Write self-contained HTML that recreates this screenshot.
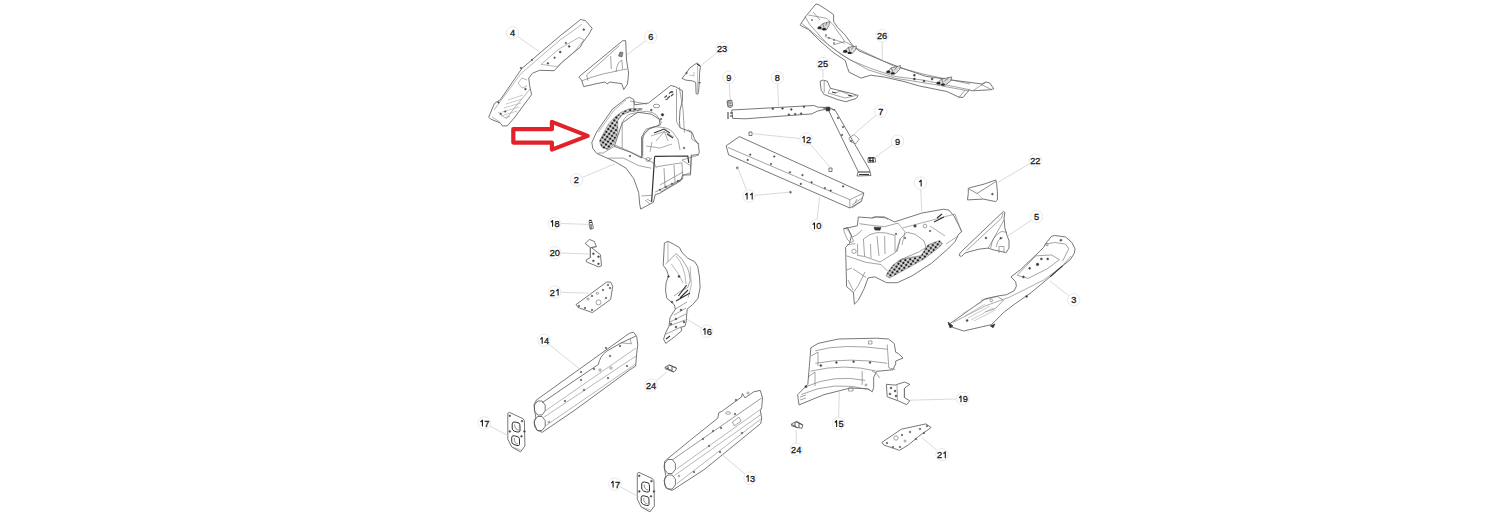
<!DOCTYPE html>
<html><head><meta charset="utf-8"><style>
html,body{margin:0;padding:0;background:#fff;width:1506px;height:512px;overflow:hidden}
svg{display:block}
text{font-family:"Liberation Sans",sans-serif;font-size:9.2px;fill:#1a1a1a;stroke:#1a1a1a;stroke-width:0.3px;text-anchor:middle}
</style></head><body>
<svg width="1506" height="512" viewBox="0 0 1506 512">
<defs><pattern id="mesh" width="3.5" height="3.5" patternUnits="userSpaceOnUse" patternTransform="rotate(35)"><rect width="3.5" height="3.5" fill="#fff"/><rect x="0.55" y="0.55" width="2.4" height="2.4" fill="#1a1a1a"/></pattern></defs>
<rect width="1506" height="512" fill="#fff"/>
<g id="parts"><polygon points="500.4,99.6 521.9,68.4 560.9,35.2 574.6,24.4 580.5,19.5 585.4,20.5 592.2,28.3 588.3,35.2 582.4,43.0 580.5,46.9 561.9,62.5 554.1,70.7 539.5,70.3 532.6,73.2 528.7,78.1 529.7,85.9 531.6,94.6 514.1,118.1 507.2,125.9 502.3,125.9 500.4,123.0 490.6,119.1 488.7,117.1 494.5,103.4" fill="#fff" stroke="#555" stroke-width="0.8" stroke-linejoin="round"/><polygon points="578.8,76.9 622.7,40.7 625.7,40.7 626.5,60.0 628.6,73.0 627.5,84.0 623.7,89.6 621.8,83.7 610.0,82.0 607.0,84.0 605.0,82.0 595.0,84.0 583.7,86.6 581.5,80.0" fill="#fff" stroke="#555" stroke-width="0.8" stroke-linejoin="round"/><polygon points="682.0,78.3 686.4,73.0 689.5,68.2 697.0,62.9 700.5,66.0 699.6,72.6 699.2,83.1 698.7,90.2 697.9,94.1 696.1,93.7 695.7,82.3 692.6,80.9 685.6,80.1" fill="#fff" stroke="#555" stroke-width="0.8" stroke-linejoin="round"/><polygon points="800.4,24.4 806.3,15.6 816.0,3.9 819.0,4.9 826.8,9.8 833.6,14.6 833.6,21.5 837.5,27.3 845.3,35.2 852.1,44.9 859.0,50.8 884.4,61.5 900.0,67.4 925.4,76.2 944.9,79.1 982.0,84.0 985.9,82.0 989.8,83.0 993.8,88.8 989.8,89.8 972.3,90.8 969.3,89.8 963.0,97.5 958.6,97.0 946.9,91.5 919.5,86.0 903.9,81.5 884.4,77.1 870.7,75.2 861.0,78.1 849.2,72.3 847.3,67.4 845.3,60.5 833.6,52.7 820.0,41.0 808.2,29.3 800.4,25.4" fill="#fff" stroke="#555" stroke-width="0.8" stroke-linejoin="round"/><polygon points="820.1,81.2 823.2,80.1 827.3,81.2 830.4,88.3 851.9,93.5 858.1,95.5 856.0,98.6 845.8,101.7 837.6,99.6 824.2,94.5 821.2,90.4" fill="#fff" stroke="#555" stroke-width="0.8" stroke-linejoin="round"/><polygon points="731.7,110.0 813.8,105.5 817.7,107.1 827.4,107.5 835.2,110.0 826.4,109.0 817.7,111.0 811.8,113.9 745.4,118.8 732.7,118.4" fill="#fff" stroke="#555" stroke-width="0.8" stroke-linejoin="round"/><polygon points="823.2,107.8 829.4,107.8 835.5,110.9 869.3,169.3 871.0,175.5 857.0,176.0 858.1,171.4 828.3,109.9" fill="#fff" stroke="#555" stroke-width="0.8" stroke-linejoin="round"/><polygon points="726.1,145.8 739.4,136.6 863.9,193.0 861.4,201.3 849.8,208.0 728.6,154.9" fill="#fff" stroke="#555" stroke-width="0.8" stroke-linejoin="round"/><polygon points="591.8,142.5 596.7,131.8 612.3,109.3 626.2,98.4 629.7,97.2 633.8,99.6 634.4,104.8 648.4,103.1 670.7,85.5 675.4,86.7 682.4,90.8 682.4,100.7 680.0,110.1 679.4,120.6 680.0,127.7 688.8,131.2 692.4,133.0 694.4,138.6 698.3,144.5 699.3,152.3 698.3,154.4 691.4,155.4 690.5,174.9 682.7,174.9 680.7,180.8 659.2,193.5 655.3,194.5 653.4,202.3 640.7,209.1 639.7,204.2 638.7,192.5 633.8,178.8 626.0,168.1 614.3,161.3 596.7,153.4 592.8,148.4" fill="#fff" stroke="#555" stroke-width="0.8" stroke-linejoin="round"/><polygon points="614.3,146.4 622.1,123.0 637.7,112.2 651.4,114.2 659.2,119.1 660.2,124.9 649.5,128.8 641.6,136.6 641.6,158.1 630.0,152.0" fill="#fff" stroke="#555" stroke-width="0.8" stroke-linejoin="round"/><polygon points="600.6,145.1 599.5,140.8 601.7,136.5 608.1,124.7 614.5,117.2 622.0,111.8 629.6,108.6 642.4,108.6 641.4,110.2 629.6,111.8 622.0,115.0 617.8,120.4 617.8,132.2 613.5,145.1 608.1,149.4 602.7,148.3" fill="url(#mesh)" stroke="#777" stroke-width="0.5"/><polygon points="858.3,217.0 872.0,218.0 876.9,217.0 886.6,218.0 894.5,221.9 921.8,213.1 943.3,209.2 949.1,210.2 954.0,216.0 959.9,227.7 961.8,231.6 958.9,233.9 955.0,241.7 947.2,249.5 931.6,263.2 912.0,275.9 897.4,282.7 886.6,282.7 874.9,276.9 868.1,277.9 864.2,288.6 858.3,300.3 854.4,304.2 853.4,292.5 846.6,286.6 845.6,247.3 849.5,243.4 851.5,235.5 847.6,227.7 843.7,228.7 857.3,225.8" fill="#fff" stroke="#555" stroke-width="0.8" stroke-linejoin="round"/><polygon points="887.8,272.1 893.0,265.0 901.5,258.9 921.0,255.5 927.9,244.8 939.6,240.4 942.5,243.8 938.6,247.7 924.0,259.0 909.3,267.2 889.8,278.0 886.0,276.0" fill="url(#mesh)" stroke="#777" stroke-width="0.5"/><polygon points="968.3,188.3 970.8,187.5 984.1,184.1 995.7,180.0 996.5,182.5 997.4,191.6 997.4,200.0 995.7,201.6 983.3,199.1 967.5,199.9 968.3,193.3" fill="#fff" stroke="#555" stroke-width="0.8" stroke-linejoin="round"/><polygon points="959.2,255.6 960.0,253.1 965.0,248.1 1003.2,211.6 1004.9,212.4 1004.0,218.2 1004.9,228.2 1007.4,236.5 1009.0,240.6 1009.0,248.1 1005.7,253.1 1004.9,252.3 993.2,249.8 988.2,248.1 979.9,249.0 970.0,251.5 965.0,253.1 961.6,256.4" fill="#fff" stroke="#555" stroke-width="0.8" stroke-linejoin="round"/><polygon points="948.6,324.6 985.1,298.8 1000.0,295.6 1006.2,294.8 1014.0,290.9 1016.4,286.2 1015.6,281.6 1010.9,276.9 1020.3,269.8 1035.9,255.0 1043.8,247.2 1045.3,244.1 1051.6,236.2 1054.7,235.5 1065.6,237.0 1071.9,242.5 1075.0,248.8 1074.2,253.4 1070.3,259.7 1062.5,265.9 1050.0,276.9 1031.2,292.5 1015.6,303.4 1009.4,308.1 1004.5,311.7 991.6,324.6 963.6,331.0 950.7,326.7" fill="#fff" stroke="#555" stroke-width="0.8" stroke-linejoin="round"/><polygon points="589.3,220.1 591.3,220.1 592.4,223.2 593.4,228.3 590.3,229.3 589.3,226.2" fill="#fff" stroke="#555" stroke-width="0.8" stroke-linejoin="round"/><polygon points="585.2,243.5 589.3,239.4 594.4,241.5 596.4,246.6 591.3,247.6 600.5,254.7 601.5,265.9 598.5,266.9 586.3,261.8 586.3,259.8 590.3,257.7 590.3,247.6" fill="#fff" stroke="#555" stroke-width="0.8" stroke-linejoin="round"/><polygon points="576.1,304.5 606.6,282.1 610.7,282.1 612.7,286.2 610.7,299.4 592.4,312.6 578.1,307.5" fill="#fff" stroke="#555" stroke-width="0.8" stroke-linejoin="round"/><polygon points="664.4,243.0 667.9,241.3 673.7,244.2 679.6,247.7 681.9,252.4 687.8,258.2 694.8,261.8 697.7,266.4 699.5,277.0 700.1,287.6 698.0,298.3 692.6,304.7 687.2,309.0 686.1,321.9 685.0,326.2 680.8,327.3 681.9,330.5 674.3,337.0 665.7,343.4 663.6,339.1 665.7,332.7 669.0,326.2 670.0,317.6 675.4,309.0 674.3,304.7 666.8,298.3 665.5,290.0 666.1,282.8 668.5,275.8 666.7,270.0 663.2,265.3" fill="#fff" stroke="#555" stroke-width="0.8" stroke-linejoin="round"/><polygon points="536.3,400.1 629.3,333.3 633.6,332.2 636.7,336.4 637.8,344.9 636.7,353.3 635.7,366.0 629.3,370.2 575.0,410.0 542.2,432.3 536.8,430.2 534.1,422.6 535.8,417.3 534.7,410.8 534.1,404.9" fill="#fff" stroke="#555" stroke-width="0.8" stroke-linejoin="round"/><polygon points="507.8,413.3 509.3,412.3 523.0,418.7 524.4,420.6 524.9,446.0 520.5,451.9 511.7,447.0 507.8,439.2" fill="#fff" stroke="#555" stroke-width="0.8" stroke-linejoin="round"/><polygon points="666.8,459.4 690.5,440.0 717.8,418.1 718.7,412.8 722.2,411.1 741.5,397.0 742.4,393.5 745.0,397.9 753.8,391.8 760.3,390.4 762.5,397.9 761.7,407.6 760.3,410.8 761.7,418.1 760.8,423.4 705.0,469.0 672.0,490.5 665.8,487.8 664.1,480.9 665.8,475.5 664.1,466.9 664.7,461.5" fill="#fff" stroke="#555" stroke-width="0.8" stroke-linejoin="round"/><polygon points="637.3,473.3 638.8,472.3 652.5,478.7 653.9,480.6 654.4,506.0 650.0,511.9 641.2,507.0 637.3,499.2" fill="#fff" stroke="#555" stroke-width="0.8" stroke-linejoin="round"/><polygon points="797.6,394.7 799.0,404.9 823.9,394.7 850.3,388.0 867.9,388.8 872.3,391.8 873.7,387.4 873.7,377.1 876.7,371.3 892.8,369.8 895.7,363.9 895.7,361.0 903.0,358.1 898.6,353.7 895.7,352.2 894.2,343.4 888.4,339.0 876.7,338.2 838.6,339.0 818.1,343.4 810.8,347.8 809.3,366.9 807.8,384.4" fill="#fff" stroke="#555" stroke-width="0.8" stroke-linejoin="round"/><polygon points="886.4,384.3 895.0,385.1 904.4,382.0 909.8,384.3 904.4,388.3 904.4,397.6 909.8,400.8 906.7,404.7 898.1,400.8 887.2,396.8" fill="#fff" stroke="#555" stroke-width="0.8" stroke-linejoin="round"/><polygon points="791.4,423.9 796.7,421.3 802.8,424.8 802.0,428.3 796.7,427.5 791.4,425.7" fill="#fff" stroke="#555" stroke-width="0.8" stroke-linejoin="round"/><polygon points="665.0,367.2 669.2,364.8 676.5,368.0 676.0,370.1 673.6,372.1 665.3,368.7" fill="#fff" stroke="#555" stroke-width="0.8" stroke-linejoin="round"/><polygon points="881.9,442.4 901.3,429.2 925.9,423.9 931.1,427.5 918.8,436.2 908.3,445.0 899.5,450.3 883.7,445.0" fill="#fff" stroke="#555" stroke-width="0.8" stroke-linejoin="round"/><polygon points="727.0,101.0 731.0,100.0 732.0,106.0 728.0,107.0" fill="#fff" stroke="#555" stroke-width="0.8" stroke-linejoin="round"/><polygon points="868.0,158.0 875.0,157.5 875.7,162.0 868.0,162.3" fill="#fff" stroke="#555" stroke-width="0.8" stroke-linejoin="round"/><polygon points="749.0,132.0 752.0,132.0 752.0,135.5 749.0,135.5" fill="#fff" stroke="#555" stroke-width="0.8" stroke-linejoin="round"/><polygon points="829.0,168.0 832.0,168.0 832.0,171.5 829.0,171.5" fill="#fff" stroke="#555" stroke-width="0.8" stroke-linejoin="round"/></g>
<g id="extra" fill="none" stroke="#666" stroke-width="0.6"><!-- part 4 -->
<path stroke="#888" d="M494,110 L521,73.5 L560,40 L575,29.5 L582,24"/>
<path stroke="#888" d="M541,64.4 L559,49 L579,37.5 L584,39.7 L575,51 L557,66.6 Z"/>
<path stroke="#888" d="M530,89 L516,106 L506,119"/>
<path stroke="#888" d="M527,80 L522,78 L518,83 L522,88 L527,86"/>
<path d="M506,104 L522,99 M504,108 L521,103 M502,112 L519,107 M501,116 L517,111 M508,100 L523,95" stroke="#aaa"/><circle cx="583.8" cy="29.6" r="0.9" fill="#333"/><circle cx="569.2" cy="46.4" r="0.9" fill="#333"/><circle cx="565.8" cy="43" r="0.8" fill="#333"/><circle cx="560.2" cy="52" r="1" fill="#333"/><circle cx="554.6" cy="57.7" r="0.8" fill="#333"/><circle cx="547.9" cy="63.3" r="0.9" fill="#333"/><circle cx="525.4" cy="89.1" r="0.9" fill="#333"/><circle cx="500.7" cy="113.8" r="0.9" fill="#333"/><circle cx="505.2" cy="111.5" r="0.8" fill="#333"/><circle cx="498.5" cy="102.5" r="0.8" fill="#333"/><circle cx="521" cy="68" r="0.8" fill="#333"/><circle cx="532" cy="60" r="0.8" fill="#333"/>
<path stroke="#888" d="M498,112 L505,118 L510,116 M492,117 L500,122"/>
<!-- part 6 -->
<path d="M586.7,74.8 L619.5,45.5 M586.7,75 L587.9,80.7 M610.7,56.1 L611.3,69 M616,72 Q617,62 621.9,60.2 L622.5,69 M582,80.7 Q600,74 610.2,72.5 Q620,70 627,69"/>
<path d="M618.5,56 L620,52 L623,52.5 L622,57 Z" fill="#888" stroke="#555"/>
<!-- part 23 -->
<path d="M689,75 L694,76 L694,72 M697.5,66 L697.5,92" stroke="#999"/><circle cx="686.5" cy="73" r="0.8" fill="#333"/><path d="M698.5,83 L700.5,82.5 M697,64 L700,66" stroke="#333" stroke-width="1.1"/>
<!-- part 2 extras -->
<path d="M598.4,132.2 L613.5,110.7 L626,100" stroke="#888"/>
<path d="M622.2,148 L622.2,122.6 Q626,115 631.1,113.7 L646.3,111.2 Q653,112 656.5,115 L661.6,122.6 L656.5,126.4 L646.3,128.9 Q643,132 642.5,137.8 L642.5,155.6"/>
<path d="M598,153 L603.2,153 L615.9,145.4 L638.7,155.6 L654,163.2 L656.5,168.2 M608.3,158.1 L623.5,158.1 L638.7,165.7 L651.4,168.2"/>
<path d="M642.8,156.9 L642.8,139.3 Q644,132 646.7,130.5 Q650,127 654.6,126.6 L664.3,127.6 Q670,129 672.2,131.5 L678,139.3 L680,150"/>
<path d="M664.3,131.5 L651,136 M664.3,131.5 L656,141 M664.3,131.5 L668,141 M664.3,131.5 L674,137 M646,146 L660,148 L672,144 M650,152 L652,142" stroke="#777"/>
<path d="M654.6,156.3 L687.8,156 L688.8,162.8 M654.6,156.9 L651.6,202" stroke="#333" stroke-width="1.2"/>
<path d="M656.5,166.7 L681.9,162.8 L682.9,178.4 L660.4,192.1 M664,168 L665,188 M674,165 L675,182 M660,185 L683,172 M682,160 L699,155"/>
<path d="M687.8,129.6 L691.7,131.5 L691.7,139 L699.5,144.2 M679.3,87.1 L683.1,109.9 L684.4,132.7 M634,101 L634,112 M630,101 L647,104 M648,161 L652,158"/>
<path d="M664.5,97.5 L667,95.5 M667.5,98.5 L670,96 M669,93.5 L671.5,91.5 M671,96 L673.5,94 M665.5,99.5 L668,99" stroke="#444" stroke-width="1.1"/><circle cx="672" cy="92" r="0.9" fill="#333"/>
<ellipse cx="656.5" cy="106" rx="3.2" ry="1.8" stroke="#555"/>
<path d="M676.5,89 L676.5,121.8 L680,127.7 M682.9,175.6 L690.4,172.6 M691.2,154.5 L690.4,172.6 M682,160 L691,166 M641.5,196 L652.8,195.2 M645,200 L650,204 M647,199 L652,202" stroke="#666"/>
<path d="M655.1,192.1 L682.9,178.6" stroke="#555"/>
<circle cx="660" cy="189.7" r="0.8" fill="#333"/><circle cx="666" cy="186.8" r="0.8" fill="#333"/><circle cx="672" cy="183.8" r="0.8" fill="#333"/><circle cx="678" cy="180.9" r="0.8" fill="#333"/>
<circle cx="651.3" cy="110.1" r="0.9" fill="#333"/>
<path d="M654,133 L664,129 L670,133 M667,134 L673,138" stroke="#333" stroke-width="1.1"/>
<circle cx="662.5" cy="114.8" r="1.3" fill="#222"/><circle cx="648" cy="159.5" r="2"/><circle cx="661" cy="119" r="0.8" fill="#333"/><circle cx="684" cy="148" r="0.8" fill="#333"/><circle cx="630" cy="156" r="0.8" fill="#333"/>
<!-- part 1 extras -->
<path d="M859.3,223.7 L872.8,225.5 L884.5,226.7 L898,223.1 M871.6,218.5 L874,216.7 L884.5,216.7 L888,219.6"/>
<path d="M843.5,229 L845.9,228.4 L848.8,231.3 L852.3,237.8 L853.5,241.3 L850.5,242.5 L847,239 L844.7,233.1 Z M852,237 Q856,236 858.7,233.1 L862,230"/>
<path d="M863.4,239 L864.6,256.5 M863.4,239 Q875,228 895,235.4 L895,251.8 M870.5,244 L871,258 M884.6,236 L885,254 M877,236 L879,256" />
<path d="M874,227.2 L881,227.5 L880,230.2 L875,230 Z" fill="#333" stroke="#333"/>
<circle cx="854" cy="251.3" r="2.2"/>
<path d="M857.6,243.6 L857.6,255.4 L864.6,256.5 M847,244.8 L855.2,243.6 M846.6,255.9 L865.9,262.3 L881,264.5 L887.4,270.9 M853,268.8 L865.9,277.4"/>
<path d="M864.6,256.5 L880,262 L896,252 L900.3,238.7"/>
<path d="M897.1,251.6 L900.3,238.7 L906.8,232.2 L915.4,234.4 L923.9,240.8 L926.1,247.3 L919.7,251.6 L906.8,257 L897,262"/>
<path d="M902.5,228 L955,214 L961.5,232 M898,223 L905,232 L902,245 M930,226 L945,236 M946,244 L958,236" stroke="#777"/>
<path d="M853.4,292.5 L858,286 L865,272 M848,280 L853,290 M846.6,270 L852,268"/>
<path d="M937,218 L942,214 M934,222 L944,217" stroke="#333" stroke-width="1.2"/>
<circle cx="915" cy="226" r="1.3" fill="#333"/><circle cx="925" cy="226" r="1.8"/><circle cx="905" cy="238" r="0.8" fill="#333"/><circle cx="930" cy="231" r="0.8" fill="#333"/><circle cx="896" cy="234" r="0.8" fill="#333"/>
<!-- part 26 -->
<path d="M805,16.6 L810,24.9 L828.2,44.9 L849.8,59.8 L869.8,68.1 L894.7,76.4 L923,80.1 L969.2,89.7"/>
<path d="M801.6,23.3 L819.9,38.2 L841.5,54.8 L868.1,69.8 L894.7,78.1 L933.7,84.4 L969,91"/>
<path d="M808.3,15 L826.6,18.3 L833.2,24.9 L844.8,41.5 L856.5,48.2 L894.7,66.4 L923,74 L970,84"/>
<path d="M824.9,36.5 L844.8,43.2 M833.2,44.9 L844.8,41.5 M813,12 L820,20 M958.4,98.3 L965,90"/>

<path d="M817.6,28.7 L822.6,23.7 L829.9,21.5 L828.9,25.5 L826.6,29.7 Z" fill="#ddd" stroke="#444"/><path d="M822.6,23.7 L824.6,29.2 M826.9,22.5 L825.6,25.7" stroke="#444"/><ellipse cx="819.6" cy="27.7" rx="2" ry="1.2" fill="#222" stroke="none"/><ellipse cx="824.1" cy="29.3" rx="2" ry="1.2" fill="#222" stroke="none"/><path d="M843.2,52.3 L848.2,47.3 L856.5,46.1 L855.5,50.1 L852.2,53.3 Z" fill="#ddd" stroke="#444"/><path d="M848.2,47.3 L850.2,52.8 M853.5,47.1 L851.2,49.3" stroke="#444"/><ellipse cx="845.2" cy="51.3" rx="2" ry="1.2" fill="#222" stroke="none"/><ellipse cx="849.7" cy="52.9" rx="2" ry="1.2" fill="#222" stroke="none"/><path d="M886.3,72.8 L891.3,67.8 L900.6,65.6 L899.6,69.6 L895.3,73.8 Z" fill="#ddd" stroke="#444"/><path d="M891.3,67.8 L893.3,73.3 M897.6,66.6 L894.3,69.8" stroke="#444"/><ellipse cx="888.3" cy="71.8" rx="2" ry="1.2" fill="#222" stroke="none"/><ellipse cx="892.8" cy="73.39999999999999" rx="2" ry="1.2" fill="#222" stroke="none"/><path d="M936.5,84 L941.5,79 L951.8,76.9 L950.8,80.9 L945.5,85 Z" fill="#ddd" stroke="#444"/><path d="M941.5,79 L943.5,84.5 M948.8,77.9 L944.5,81" stroke="#444"/><ellipse cx="938.5" cy="83" rx="2" ry="1.2" fill="#222" stroke="none"/><ellipse cx="943.0" cy="84.6" rx="2" ry="1.2" fill="#222" stroke="none"/>
<path d="M973.5,90.3 L985.8,82.2 M981,84.4 L991.7,89.7"/>
<circle cx="914.4" cy="75.2" r="1" fill="#222"/><circle cx="932.1" cy="79" r="1" fill="#222"/><circle cx="914.4" cy="79" r="1" fill="#222"/><circle cx="924" cy="81.1" r="1" fill="#222"/>
<circle cx="812" cy="20" r="0.6" fill="#444"/><circle cx="826" cy="35" r="0.6" fill="#444"/><circle cx="829" cy="38" r="0.6" fill="#444"/><circle cx="834" cy="40" r="0.6" fill="#444"/><circle cx="834" cy="43" r="0.6" fill="#444"/>
<!-- part 8 -->
<path d="M728,101 L732,100.5 L732.7,106 L730,108 L727.9,105 Z" fill="#ccc" stroke="#444"/><path d="M729,103 L731.5,103 M729.5,105.5 L731.5,105.5" stroke="#333"/>
<path d="M728,112 L728,119 M730,113 L733,113 M730,116 L733,116" stroke="#333" stroke-width="1"/>
<circle cx="772.8" cy="108.7" r="0.9" fill="#333"/><circle cx="782.5" cy="108.4" r="0.9" fill="#333"/><circle cx="791.3" cy="109.4" r="0.9" fill="#333"/><circle cx="804" cy="106.7" r="0.9" fill="#333"/><circle cx="788.9" cy="114.6" r="0.9" fill="#333"/><circle cx="795.2" cy="114.1" r="0.9" fill="#333"/><circle cx="801.1" cy="113.6" r="0.9" fill="#333"/>
<path d="M826,107 L830,107 L830,111 L826,111 Z" fill="#333"/>
<!-- part 25 -->
<path d="M824.2,81 L824.2,92.4 M830.4,88.3 L828,93 L845,98 L856,95.5 M836,93 L840,91 L848,94" />
<path d="M832,92 L836,93 M848,95 L852,96" stroke="#333" stroke-width="1.2"/>
<!-- part 7 -->
<circle cx="838" cy="118" r="0.8" fill="#333"/><circle cx="843" cy="127" r="0.8" fill="#333"/><circle cx="842" cy="135" r="0.8" fill="#333"/><circle cx="851" cy="141" r="0.8" fill="#333"/>
<path d="M848.8,138 L854,134.5 L859.1,139 L856,143.7 L851,142 Z"/>
<path d="M858,172 L870,172 M859,174.5 L869,174.5" stroke="#333" stroke-width="1.2"/>
<path d="M868,158 L875,158 M869,160.5 L874,161 M870,157 L870,162.5 M873,157 L873,162.5" stroke="#222" stroke-width="1.1"/>
<!-- part 3 -->
<path d="M1017.2,275.3 L1035.9,255.8 L1051.6,255 L1059.4,259.7 L1046.9,269 L1028.1,278.4 Z"/>
<path d="M1045.3,244.1 L1054.7,242.5 L1065.6,244.1 L1068.75,248.75 L1062.5,261.25"/>
<path d="M953,322.5 L985,306 L1009.4,297.2 L1043.75,280 L1062.5,265.9 L1071,256" stroke="#777"/>
<path d="M1050,276.9 L1062.5,265.9" stroke="#333" stroke-width="1.1"/>
<path d="M981.2,300.4 L997.3,296.4 L1003.4,300.4 L995.3,308.5 L985,312"/>
<path d="M965,316 L985,304 M968,318 L990,306 M971,320 L993,308 M962,314 L982,302 M974,321 L995,310" stroke="#aaa"/>
<circle cx="1060.9" cy="240.2" r="1" fill="#333"/><circle cx="1046.9" cy="244.8" r="1.2"/><circle cx="1041.4" cy="258.9" r="1" fill="#333"/><circle cx="1047.7" cy="258.9" r="1" fill="#333"/><circle cx="1037.5" cy="264.4" r="1.3" fill="#333"/><circle cx="1029.7" cy="268.3" r="1" fill="#333"/><circle cx="1023.4" cy="276.9" r="1" fill="#333"/><circle cx="1026.6" cy="296.4" r="1" fill="#333"/><circle cx="991.3" cy="300.4" r="1.3"/><circle cx="967.1" cy="320.5" r="1" fill="#333"/>
<path d="M948,322 L953,326 L950,328 Z M990,326 L995,324 L993,328" fill="#333" stroke="#333"/>
<!-- part 10 -->
<path d="M727.8,147.4 L849.8,199.7 L863.9,193 M849.8,199.7 L849.8,208 M852,205 L862,198 M855,203 L857,199 M852,208 L861.4,201.3"/>

<circle cx="750.2" cy="154.6" r="0.8" fill="#333"/><circle cx="774.3" cy="156.5" r="0.8" fill="#333"/><circle cx="747.7" cy="159.9" r="0.8" fill="#333"/><circle cx="771" cy="164" r="0.8" fill="#333"/><circle cx="790" cy="172.3" r="0.8" fill="#333"/><circle cx="802.5" cy="175.1" r="0.8" fill="#333"/><circle cx="811.6" cy="182.3" r="0.8" fill="#333"/><circle cx="800.8" cy="183.9" r="0.8" fill="#333"/><circle cx="824.9" cy="188.1" r="0.8" fill="#333"/><circle cx="830.7" cy="190.6" r="0.8" fill="#333"/><circle cx="843.1" cy="186.4" r="0.8" fill="#333"/>
<circle cx="737.3" cy="167.8" r="1" fill="#555"/><circle cx="790.4" cy="192.2" r="1" fill="#555"/>
<!-- part 22 -->
<path d="M969,189 L977,193.5 L996,181.5" stroke="#444"/><path d="M977,193.5 L983,199" stroke="#999"/>
<circle cx="992.4" cy="194.1" r="0.9" fill="#333"/>
<!-- part 5 -->
<path d="M966.6,250.6 L1001.5,218.2 L1003,213 M990.7,248 Q992,236 1001.5,231.5 L1007,232.3 M996.5,247 Q997,239 1003,237.5 M999,253 L999,246.5 L1004,246.5 L1004,252.5 M988,248.5 L1004,220"/>
<circle cx="1000.7" cy="238.2" r="0.9" fill="#333"/><circle cx="986" cy="238" r="0.9" fill="#333"/>
<!-- part 15 -->
<path d="M815.3,350.8 Q841.9,343 887.2,349.2 M815.3,363.3 Q850,357 887.2,363.3 M810.6,371.1 Q845,363 876.3,371.1 M805.9,386.7 Q834,374 865.3,380.4 M801.3,394.5 Q834,380 870,389.8"/>
<path d="M887.2,344.5 L888.8,367.9 L895,369.5 M862.2,371 L862.2,385 M872,371 Q876,372 880,378 M811,356 L818,352 L818,366 M808,377 L815,372 L815,386"/>
<path d="M868.4,341 L872,341 L872,344 L868.4,344 Z M848.5,388 L853,388 L853,391 L848.5,391 Z M800,397 L806,395 M800,400 L806,398"/>
<circle cx="836.4" cy="362.5" r="0.9" fill="#333"/><circle cx="853.6" cy="361.7" r="0.9" fill="#333"/><circle cx="870" cy="362.5" r="0.9" fill="#333"/><circle cx="820.8" cy="365.6" r="1" fill="#333"/><circle cx="805.9" cy="386.7" r="1.1" fill="#333"/><circle cx="866" cy="385" r="1"/>
<!-- part 19 -->
<path d="M897,385.1 L897.5,400.8 M904.4,388.3 L904.4,397.6"/>
<circle cx="891" cy="388" r="0.9" fill="#333"/><circle cx="895" cy="391" r="0.9" fill="#333"/><circle cx="890" cy="394" r="0.9" fill="#333"/><circle cx="896" cy="396" r="0.9" fill="#333"/>
<!-- part 21 lower -->
<circle cx="896" cy="438" r="2.2"/><circle cx="905" cy="441" r="1"/><circle cx="910" cy="432" r="0.8" fill="#333"/><circle cx="920" cy="429" r="0.8" fill="#333"/><circle cx="924" cy="433" r="0.8" fill="#333"/><circle cx="902" cy="435" r="0.8" fill="#333"/><circle cx="887" cy="443" r="0.8" fill="#333"/><circle cx="893" cy="447" r="0.8" fill="#333"/><circle cx="900" cy="447" r="0.8" fill="#333"/><circle cx="916" cy="439" r="0.8" fill="#333"/><circle cx="927" cy="426" r="0.8" fill="#333"/>
<!-- part 14 -->
<path d="M542.2,402.7 L568,385 L598.3,364.5 Q600,356 606.9,351 L621,343 L636,336" stroke="#555" stroke-width="0.8"/>
<path d="M545.4,410.8 L636,348 M543.8,417.3 L636,356 M545.4,425.9 L635.7,364" stroke="#888"/>
<path d="M545.2,410.9 L542.0,415.0 L537.6,415.0 L534.4,410.9 L534.4,405.1 L537.6,401.0 L542.0,401.0 L545.2,405.1 Z M545.2,426.4 L542.0,430.5 L537.6,430.5 L534.4,426.4 L534.4,420.6 L537.6,416.5 L542.0,416.5 L545.2,420.6 Z" stroke="#555" stroke-width="0.8"/>
<path d="M620.9,342.8 L631.4,343.8 L630,339"/>
<circle cx="581" cy="372" r="0.8" fill="#333"/><circle cx="581" cy="380" r="0.8" fill="#333"/><circle cx="594" cy="369" r="0.8" fill="#333"/><circle cx="600" cy="370" r="1.2"/><circle cx="611" cy="368" r="1.2"/><circle cx="627" cy="366" r="0.8" fill="#333"/><circle cx="610" cy="356" r="0.8" fill="#333"/><circle cx="606" cy="348" r="0.8" fill="#333"/><circle cx="620" cy="346" r="0.8" fill="#333"/><circle cx="608" cy="378" r="0.8" fill="#333"/><circle cx="584" cy="390" r="0.8" fill="#333"/><circle cx="565" cy="401" r="0.8" fill="#333"/><circle cx="549" cy="422" r="0.9"/>
<!-- part 13 -->
<path d="M672.2,459.9 L761.7,397.9" stroke="#555"/>
<path d="M676.5,469 L761.7,408.5 M674.4,475.5 L761.7,414 M676.5,484 L760.8,419" stroke="#888"/>
<path d="M675.4,469.4 L672.2,473.5 L667.8,473.5 L664.6,469.4 L664.6,463.6 L667.8,459.5 L672.2,459.5 L675.4,463.6 Z M675.4,484.9 L672.2,489.0 L667.8,489.0 L664.6,484.9 L664.6,479.1 L667.8,475.0 L672.2,475.0 L675.4,479.1 Z" stroke="#555" stroke-width="0.8"/>
<path d="M732.4,422 L739,417.2 L741,421 L734.4,425.8 Z"/>
<ellipse cx="728.1" cy="413" rx="2.5" ry="1.3"/>
<circle cx="748" cy="393" r="1"/><circle cx="736" cy="400" r="0.8" fill="#333"/><circle cx="735" cy="414" r="0.8" fill="#333"/><circle cx="721" cy="428" r="0.8" fill="#333"/><circle cx="713" cy="431" r="0.8" fill="#333"/><circle cx="703" cy="439" r="0.8" fill="#333"/><circle cx="709" cy="446" r="0.8" fill="#333"/><circle cx="742" cy="433" r="0.8" fill="#333"/><circle cx="720" cy="452" r="0.8" fill="#333"/><circle cx="694" cy="472" r="0.8" fill="#333"/><circle cx="679" cy="476" r="0.9"/>
<!-- part 16 -->
<path d="M665.5,264.1 L676.1,253.6 Q682,258 684.3,262.9 Q688,268 689,272.3 L690.1,280.5 L687.8,287.5 L680.8,291 L674,296"/>
<path d="M671.4,264.1 Q678,272 683.1,282.8 M676,256 Q685,266 686,284 M690.1,266.4 L691.3,285.2 L688,298 M667.9,241.3 L668,262" stroke="#888"/>
<path d="M678.4,296 L686.6,285.2 M680,298 L688,290 M676,301 L690,293" stroke="#333" stroke-width="1.1"/>
<circle cx="679" cy="276.4" r="1" fill="#222"/><circle cx="668.5" cy="276.4" r="0.9" fill="#222"/>
<path d="M675.4,309 L687,302 M674,315 L686,308 M670,322 L686,314 M669,326 L685,320 M666,334 L681,327" />
<circle cx="672" cy="302" r="0.9" fill="#333"/><circle cx="681" cy="310" r="0.9" fill="#333"/><circle cx="676" cy="319" r="0.9" fill="#333"/><circle cx="671" cy="324" r="0.9" fill="#333"/><circle cx="676" cy="327" r="0.9" fill="#333"/><circle cx="684" cy="322" r="0.9" fill="#333"/>
<path d="M666,339 L670,336" stroke="#333" stroke-width="1.1"/>
<!-- part 17 a -->
<g id="g17">
<path d="M512.2,424 Q512.2,421.6 515,422 L519,423 Q520,424 520,427 L520,431 Q520,432.4 517,432 L514,431 Q512.2,430 512.2,428 Z" stroke="#333" stroke-width="1"/>
<path d="M514.5,424.5 Q515,430 519,430" stroke="#444"/>
<path d="M511.7,437.5 Q511.7,435.3 514.5,435.8 L518.5,437 Q519.5,438 519.5,440 L519.5,444.5 Q519.5,446 517,445.5 L514,444.5 Q511.7,443.5 511.7,441.5 Z" stroke="#333" stroke-width="1"/>
<path d="M514.3,438 Q514,443.5 518,444" stroke="#444"/>
<circle cx="509.8" cy="415.8" r="0.9" fill="#333"/><circle cx="522" cy="421.1" r="0.9" fill="#333"/><circle cx="509.8" cy="431.4" r="0.9" fill="#333"/><circle cx="521.5" cy="436.3" r="0.9" fill="#333"/><circle cx="524.4" cy="431.4" r="0.9" fill="#333"/>
<path d="M512,447 L521,450" stroke="#888"/>
</g>
<use href="#g17" transform="translate(129.5,60)"/>
<!-- part 18 -->
<path d="M589.3,220.5 L591.5,220.5 M589.5,222.5 L592,222.5 M591,224 L591,229" stroke="#333" stroke-width="1"/>
<!-- part 20 -->
<path d="M590.3,247.6 L591.3,247.6 L596.4,246.6 M590.3,247.6 L590.3,257.7"/>
<circle cx="593.4" cy="253.7" r="0.9" fill="#333"/><circle cx="598.5" cy="256.7" r="0.9" fill="#333"/><circle cx="593.4" cy="260.8" r="0.9" fill="#333"/><circle cx="598.5" cy="263.8" r="0.9" fill="#333"/>
<!-- part 21 upper -->
<circle cx="598.5" cy="302.4" r="2.5"/><circle cx="597.4" cy="293.3" r="1.1"/><circle cx="588" cy="299" r="1.1"/>
<circle cx="579" cy="306" r="0.8" fill="#333"/><circle cx="585" cy="308" r="0.8" fill="#333"/><circle cx="592" cy="310" r="0.8" fill="#333"/><circle cx="608" cy="285" r="0.8" fill="#333"/><circle cx="606" cy="298" r="0.8" fill="#333"/><circle cx="603" cy="290" r="0.8" fill="#333"/><circle cx="592" cy="296" r="0.8" fill="#333"/><circle cx="610" cy="288" r="0.8" fill="#333"/>
<!-- part 24 a/b -->
<path d="M669.2,365 L676.5,368.2 M665.3,367.6 L673.6,371.5 M668,366 L668,369 M672,367 L672,370" stroke="#444" stroke-width="0.9"/>
<path d="M796,421.8 L802.5,425 M791.8,424.5 L797.5,427.7 M795,422 L795,426 M799,423.5 L799,427.5" stroke="#444" stroke-width="0.9"/>
</g>
<g id="leaders" stroke="#cfcfcf" stroke-width="0.8"><line x1="517.65" y1="36.43" x2="539.5" y2="51.8"/><line x1="645.66" y1="40.68" x2="627" y2="54.7"/><line x1="717.11" y1="52.47" x2="701.2" y2="65.4"/><line x1="729.27" y1="83.39" x2="730.2" y2="99.3"/><line x1="777.59" y1="83.99" x2="778.6" y2="106.1"/><line x1="882.1" y1="42.0" x2="882.4" y2="60.5"/><line x1="822.9" y1="69.8" x2="822.9" y2="78"/><line x1="876.11" y1="115.19" x2="854.2" y2="133.9"/><line x1="799.73" y1="138.55" x2="751.25" y2="133.5"/><line x1="810.1" y1="143.99" x2="830.4" y2="167.7"/><line x1="892.39" y1="144.89" x2="873.7" y2="158.4"/><line x1="582.21" y1="177.47" x2="614.7" y2="163.9"/><line x1="920.7" y1="189.29" x2="921.8" y2="212.1"/><line x1="1029.88" y1="163.51" x2="998.3" y2="182.2"/><line x1="746.61" y1="190.13" x2="737.6" y2="167.1"/><line x1="755.17" y1="195.41" x2="790.3" y2="192.1"/><line x1="817.03" y1="219.44" x2="819.6" y2="197.4"/><line x1="1031.38" y1="220.12" x2="1008" y2="235.9"/><line x1="560.7" y1="223.5" x2="588.8" y2="224.4"/><line x1="561.1" y1="252.94" x2="588.8" y2="254"/><line x1="561.1" y1="292.3" x2="588.8" y2="293.2"/><line x1="1068.78" y1="295.86" x2="1049.6" y2="280.5"/><line x1="701.42" y1="327.93" x2="686.9" y2="319.1"/><line x1="548.91" y1="344.25" x2="579.1" y2="368.5"/><line x1="655.91" y1="381.13" x2="666.8" y2="371.9"/><line x1="956.5" y1="398.97" x2="910" y2="400.2"/><line x1="489.76" y1="425.97" x2="508" y2="435.7"/><line x1="838.59" y1="417.2" x2="839.4" y2="391.2"/><line x1="796.2" y1="443.1" x2="796.2" y2="430"/><line x1="937.22" y1="450.6" x2="921.5" y2="437.1"/><line x1="620.47" y1="487.04" x2="638.6" y2="496.6"/><line x1="745.19" y1="474.14" x2="721.8" y2="454.4"/></g>
<g id="labels"><g fill="#fff" stroke="#e2e2e2" stroke-width="0.8"><circle cx="512.5" cy="32.8" r="6.2"/><circle cx="650.7" cy="36.9" r="6.2"/><circle cx="722" cy="48.5" r="6.2"/><circle cx="728.9" cy="77.1" r="6.2"/><circle cx="777.3" cy="77.7" r="6.2"/><circle cx="882" cy="35.7" r="6.2"/><circle cx="822.9" cy="63.5" r="6.2"/><circle cx="880.9" cy="111.1" r="6.2"/><circle cx="806" cy="139.2" r="6.2"/><circle cx="897.5" cy="141.2" r="6.2"/><circle cx="576.4" cy="179.9" r="6.2"/><circle cx="920.4" cy="183" r="6.2"/><circle cx="1035.3" cy="160.3" r="6.2"/><circle cx="748.9" cy="196" r="6.2"/><circle cx="816.3" cy="225.7" r="6.2"/><circle cx="1036.6" cy="216.6" r="6.2"/><circle cx="554.4" cy="223.3" r="6.2"/><circle cx="554.8" cy="252.7" r="6.2"/><circle cx="554.8" cy="292.1" r="6.2"/><circle cx="1073.7" cy="299.8" r="6.2"/><circle cx="706.8" cy="331.2" r="6.2"/><circle cx="544" cy="340.3" r="6.2"/><circle cx="651.1" cy="385.2" r="6.2"/><circle cx="962.8" cy="398.8" r="6.2"/><circle cx="484.2" cy="423" r="6.2"/><circle cx="838.4" cy="423.5" r="6.2"/><circle cx="796.2" cy="449.4" r="6.2"/><circle cx="942" cy="454.7" r="6.2"/><circle cx="614.9" cy="484.1" r="6.2"/><circle cx="750" cy="478.2" r="6.2"/></g>
<text x="512.50" y="36.30">4</text><text x="650.70" y="40.40">6</text><text x="719.44" y="52.00">2</text><text x="724.56" y="52.00">3</text><text x="728.90" y="80.60">9</text><text x="777.30" y="81.20">8</text><text x="879.44" y="39.20">2</text><text x="884.56" y="39.20">6</text><text x="820.34" y="67.00">2</text><text x="825.46" y="67.00">5</text><text x="880.90" y="114.60">7</text><text x="808.56" y="142.70">2</text><text x="897.50" y="144.70">9</text><text x="576.40" y="183.40">2</text><text x="1032.74" y="163.80">2</text><text x="1037.86" y="163.80">2</text><text x="818.86" y="229.20">0</text><text x="1036.60" y="220.10">5</text><text x="556.96" y="226.80">8</text><text x="552.24" y="256.20">2</text><text x="557.36" y="256.20">0</text><text x="552.24" y="295.60">2</text><text x="1073.70" y="303.30">3</text><text x="709.36" y="334.70">6</text><text x="546.56" y="343.80">4</text><text x="648.54" y="388.70">2</text><text x="653.66" y="388.70">4</text><text x="965.36" y="402.30">9</text><text x="486.76" y="426.50">7</text><text x="840.96" y="427.00">5</text><text x="793.64" y="452.90">2</text><text x="798.76" y="452.90">4</text><text x="939.44" y="458.20">2</text><text x="617.46" y="487.60">7</text><text x="752.56" y="481.70">3</text><path d="M804.20,142.70 V136.35 L802.36,138.19 M921.15,186.50 V180.15 L919.31,181.99 M747.10,199.50 V193.15 L745.26,194.99 M752.21,199.50 V193.15 L750.37,194.99 M814.50,229.20 V222.85 L812.66,224.69 M552.60,226.80 V220.45 L550.76,222.29 M558.11,295.60 V289.25 L556.27,291.09 M705.00,334.70 V328.35 L703.16,330.19 M542.20,343.80 V337.45 L540.36,339.29 M961.00,402.30 V395.95 L959.16,397.79 M482.40,426.50 V420.15 L480.56,421.99 M836.60,427.00 V420.65 L834.76,422.49 M945.31,458.20 V451.85 L943.47,453.69 M613.10,487.60 V481.25 L611.26,483.09 M748.20,481.70 V475.35 L746.36,477.19" stroke="#1a1a1a" stroke-width="1.1" stroke-linejoin="round" fill="none"/></g>
<polygon points="513.3,129.2 551.9,129.2 551.9,121.9 587.7,135.9 551.9,149.6 551.9,142.6 513.3,142.6" fill="none" stroke="#e2222a" stroke-width="4.2" stroke-linejoin="round"/>
</svg></body></html>
